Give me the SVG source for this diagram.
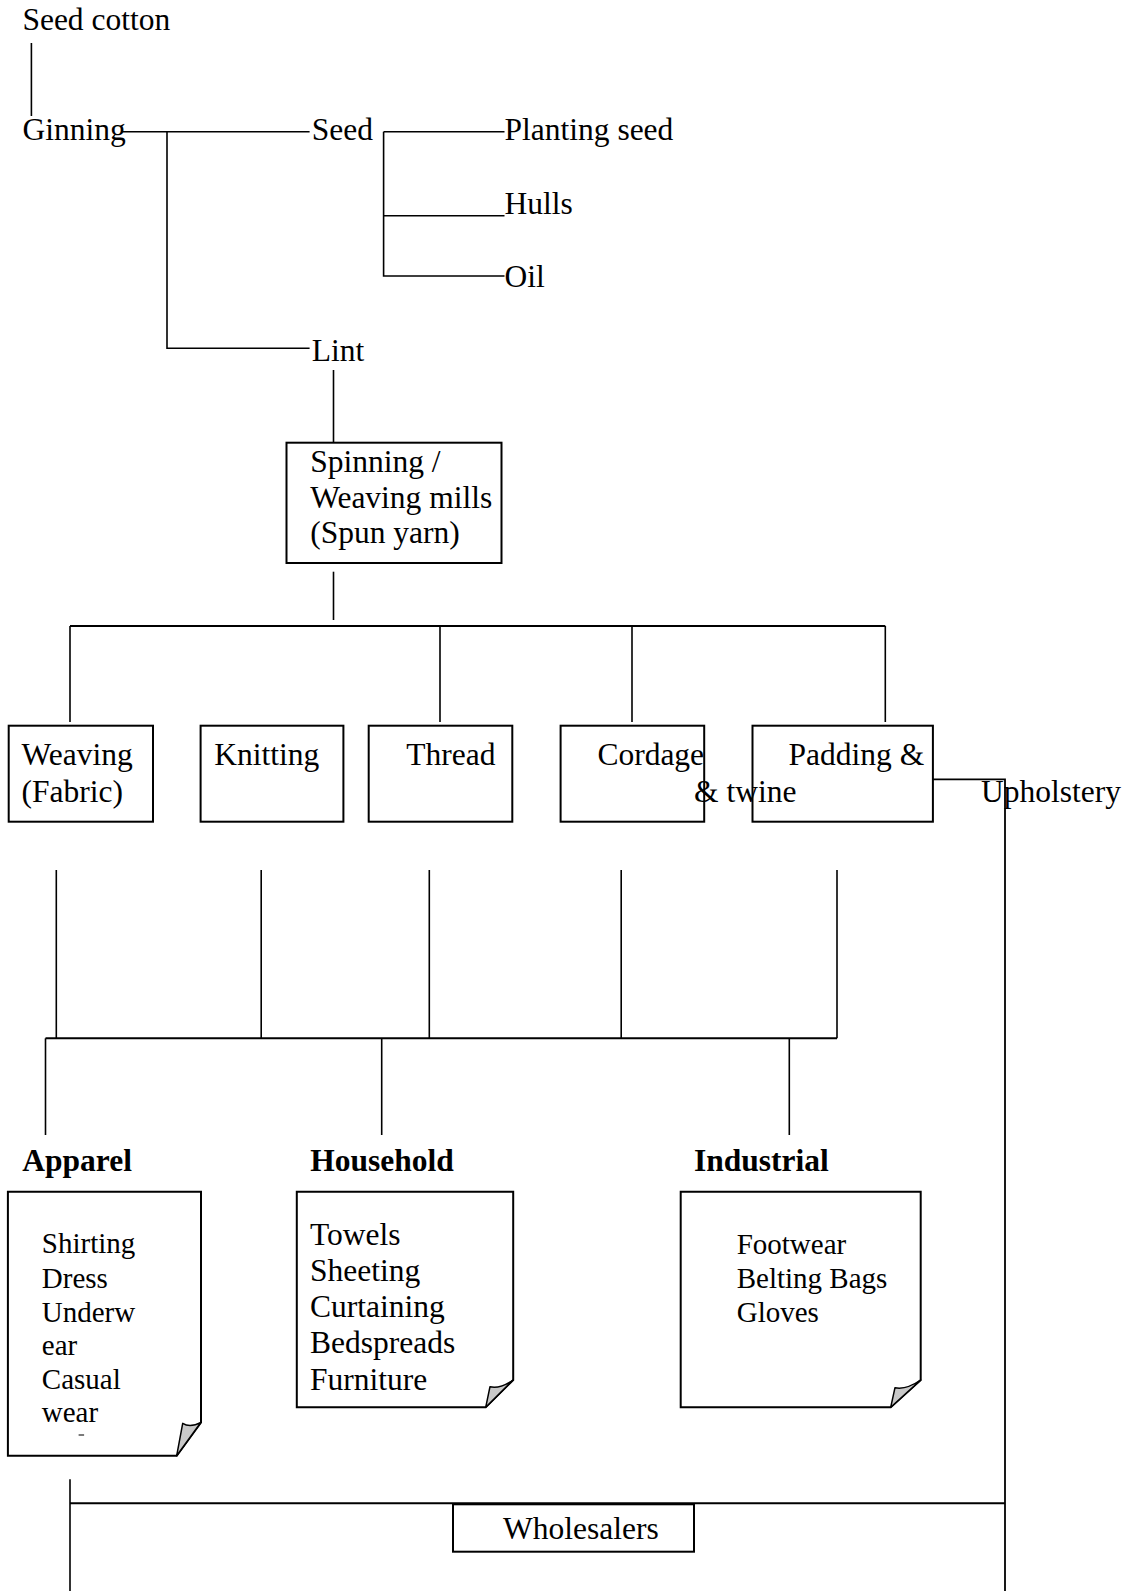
<svg xmlns="http://www.w3.org/2000/svg" width="1132" height="1591" viewBox="0 0 1132 1591">
<style>
text{font-family:"Liberation Serif","Times New Roman",serif;font-size:31.5px;fill:#000}
.s{font-size:29px}
.b{font-weight:bold}
.box{fill:#fff;stroke:#000;stroke-width:2}
.doc{fill:#fff;stroke:#000;stroke-width:2;stroke-linejoin:miter}
.fold{fill:#c8c8c8;stroke:#000;stroke-width:1.5;stroke-linejoin:round}
.c path{stroke:#000;stroke-width:1.6;fill:none}
</style>
<rect width="1132" height="1591" fill="#fff"/>
<g id="connectors" class="c">
<path d="M31.4 43V116"/>
<path d="M121 131.7H309.6"/>
<path d="M167 131.7V348.3H309.6"/>
<path d="M383.6 131.7H504.5"/>
<path d="M383.6 131.7V276H504.5"/>
<path d="M383.6 215.7H504.5"/>
<path d="M333.5 370V442.7"/>
<path d="M333.5 571.7V620"/>
<path d="M70 626H885.3" style="stroke-width:2"/>
<path d="M70 626V722"/>
<path d="M440 626V722"/>
<path d="M632 626V722"/>
<path d="M885.3 626V722"/>
<path d="M933 779.3H1005V1591" style="stroke-width:1.8"/>
<path d="M56.3 870V1038.3"/>
<path d="M261.2 870V1038.3"/>
<path d="M429.3 870V1038.3"/>
<path d="M621.2 870V1038.3"/>
<path d="M837 870V1038.3"/>
<path d="M45.5 1038.3H837" style="stroke-width:2"/>
<path d="M45.5 1038.3V1135"/>
<path d="M381.7 1038.3V1135"/>
<path d="M789.3 1038.3V1135"/>
<path d="M70 1479.3V1591"/>
<path d="M70 1503.3H1005" style="stroke-width:2"/>
</g>
<g id="seed-cotton"><text x="22.4" y="29.5">Seed cotton</text></g>
<g id="ginning"><text x="22.4" y="140">Ginning</text></g>
<g id="seed"><text x="311.7" y="140">Seed</text></g>
<g id="planting-seed"><text x="504.5" y="140">Planting seed</text></g>
<g id="hulls"><text x="504.5" y="213.5">Hulls</text></g>
<g id="oil"><text x="504.5" y="286.7">Oil</text></g>
<g id="lint"><text x="311.7" y="360.7">Lint</text></g>
<g id="spinning">
<rect class="box" x="286.5" y="442.7" width="215" height="120.3"/>
<text x="310.2" y="472">Spinning /</text>
<text x="310.2" y="508">Weaving mills</text>
<text x="310.2" y="543">(Spun yarn)</text>
</g>
<g id="weaving">
<rect class="box" x="8.7" y="725.7" width="144.3" height="96"/>
<text x="21.6" y="765">Weaving</text>
<text x="21.6" y="801.7">(Fabric)</text>
</g>
<g id="knitting">
<rect class="box" x="200.6" y="725.7" width="142.8" height="96"/>
<text x="214.3" y="765">Knitting</text>
</g>
<g id="thread">
<rect class="box" x="368.7" y="725.7" width="143.6" height="96"/>
<text x="406.2" y="765">Thread</text>
</g>
<g id="cordage">
<rect class="box" x="560.6" y="725.7" width="143.6" height="96"/>
</g>
<g id="padding">
<rect class="box" x="752.5" y="725.7" width="180.4" height="96"/>
</g>
<g id="cordage-label">
<text x="597.4" y="765">Cordage</text>
<text x="694" y="801.7">&amp; twine</text>
</g>
<g id="padding-label">
<text x="788.6" y="765">Padding &amp;</text>
<text x="981" y="801.7">Upholstery</text>
</g>
<g id="apparel">
<text class="b" x="22.3" y="1171">Apparel</text>
<path class="doc" d="M7.9 1191.7H201V1422.3L176.7 1455.7H7.9Z"/>
<path class="fold" d="M201 1422.3Q190 1428 182.7 1423.3L176.7 1455.7Z"/>
<text class="s" x="41.8" y="1253.3">Shirting</text>
<text class="s" x="41.8" y="1288.3">Dress</text>
<text class="s" x="41.8" y="1321.7">Underw</text>
<text class="s" x="41.8" y="1355">ear</text>
<text class="s" x="41.8" y="1389.3">Casual</text>
<text class="s" x="41.8" y="1421.7">wear</text>
<rect x="78.6" y="1434.3" width="5.5" height="1.4" fill="#444"/>
</g>
<g id="household">
<text class="b" x="310.3" y="1171">Household</text>
<path class="doc" d="M296.8 1191.7H513.2V1380L485.7 1407.3H296.8Z"/>
<path class="fold" d="M513.2 1380Q500 1389 490 1386.7L485.7 1407.3Z"/>
<text x="310" y="1244.5">Towels</text>
<text x="310" y="1280.7">Sheeting</text>
<text x="310" y="1317">Curtaining</text>
<text x="310" y="1353.3">Bedspreads</text>
<text x="310" y="1389.6">Furniture</text>
</g>
<g id="industrial">
<text class="b" x="694" y="1171">Industrial</text>
<path class="doc" d="M680.7 1191.7H920.7V1380L890.7 1407.3H680.7Z"/>
<path class="fold" d="M920.7 1380Q906 1390 895 1387.7L890.7 1407.3Z"/>
<text class="s" x="736.7" y="1254.3">Footwear</text>
<text class="s" x="736.7" y="1288.3">Belting Bags</text>
<text class="s" x="736.7" y="1322.3">Gloves</text>
</g>
<g id="wholesalers">
<rect class="box" x="453" y="1504.3" width="241" height="47.4"/>
<text x="503" y="1539.3">Wholesalers</text>
</g>
</svg>
